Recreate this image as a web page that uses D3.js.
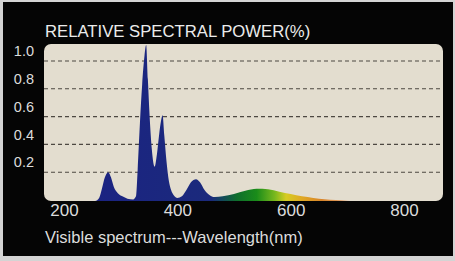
<!DOCTYPE html>
<html>
<head>
<meta charset="utf-8">
<script src="https://cdn.jsdelivr.net/npm/d3@7"></script>
<style>
  html, body { margin: 0; padding: 0; background: #d4d4d4; }
  svg { display: block; font-family: "Liberation Sans", Arial, sans-serif; }
</style>
</head>
<body>
<svg id="chart" width="455" height="261"></svg>
<script>
'use strict';
// relative spectral power of a UV/blue lamp

var wavelengths = [255, 262, 267, 272, 278, 283, 288, 295, 303, 312, 322, 327, 330, 334, 338, 342, 345,
                   348, 351, 355, 360, 364, 368, 371, 374, 377, 381, 385, 389, 394, 400, 408, 416, 424, 433,
                   440, 448, 456, 466, 480, 500, 520, 540, 560, 580, 600, 620, 640, 660, 680, 700, 712];
var power = [0, 0.02, 0.08, 0.15, 0.185, 0.15, 0.09, 0.05, 0.03, 0.015, 0.01, 0.03, 0.2, 0.5, 0.75, 0.93, 1.0,
             0.78, 0.55, 0.33, 0.22, 0.3, 0.43, 0.51, 0.55, 0.42, 0.25, 0.13, 0.07, 0.035, 0.02, 0.03, 0.07, 0.12, 0.14,
             0.12, 0.07, 0.04, 0.025, 0.03, 0.045, 0.065, 0.078, 0.075, 0.06, 0.045, 0.03, 0.02, 0.012, 0.006, 0.002, 0];

var xTicks = [200, 400, 600, 800];
var yTicks = [0.2, 0.4, 0.6, 0.8, 1.0];

// spectrum colours along the wavelength axis
var stopNm = [250, 460, 478, 505, 540, 572, 592, 620, 655, 700];
var stopColor = ["#1b2382", "#1b2a7c", "#13475e", "#0f6e2c", "#1a8c1a", "#78b81e", "#d6cc22", "#e0a824", "#d8842a", "#e0a070"];

var svg = d3.select("#chart");

// black photo backdrop
svg.append("rect")
    .attr("x", 3).attr("y", 2)
    .attr("width", 450).attr("height", 254)
    .attr("fill", "#050505");

var plot = {left: 44, top: 44, right: 443, bottom: 201};

var x = d3.scaleLinear()
    .domain([200, 800])
    .range([64, 404]);
var y = d3.scaleLinear()
    .domain([0, 1])
    .range([plot.bottom, 45]);
// gridlines of the original sit a bit off from the data scale
var yGrid = d3.scaleLinear()
    .domain([0, 1])
    .range([200, 61]);

// plot panel
svg.append("rect")
    .attr("x", plot.left).attr("y", plot.top)
    .attr("width", plot.right - plot.left).attr("height", plot.bottom - plot.top)
    .attr("rx", 7).attr("ry", 7)
    .attr("fill", "#e3ddcf");

svg.append("g")
    .selectAll("line")
    .data(yTicks)
    .enter()
        .append("line")
            .attr("x1", plot.left)
            .attr("x2", plot.right)
            .attr("y1", function(d) { return yGrid(d); })
            .attr("y2", function(d) { return yGrid(d); })
            .attr("stroke", "#4d4842")
            .attr("stroke-width", 1.1)
            .attr("stroke-dasharray", "4,3");

// gradient for the spectrum fill
var grad = svg.append("defs").append("linearGradient")
    .attr("id", "spec")
    .attr("gradientUnits", "userSpaceOnUse")
    .attr("x1", x(stopNm[0])).attr("x2", x(stopNm[stopNm.length - 1]))
    .attr("y1", 0).attr("y2", 0);
var span = stopNm[stopNm.length - 1] - stopNm[0];
grad.selectAll("stop")
    .data(stopNm)
    .enter()
        .append("stop")
            .attr("offset", function(d) { return (d - stopNm[0]) / span; })
            .attr("stop-color", function(d, i) { return stopColor[i]; });

var area = d3.area()
    .x(function(d, i) { return x(wavelengths[i]); })
    .y0(plot.bottom)
    .y1(function(d) { return y(d); })
    .curve(d3.curveMonotoneX);

svg.append("path")
    .datum(power)
    .attr("d", area)
    .attr("fill", "url(#spec)");

// y tick labels
var axisLeft = svg.append("g")
    .attr("transform", "translate(34,-10)")
    .call(d3.axisLeft(yGrid).tickValues(yTicks).tickFormat(d3.format(".1f")).tickSize(0).tickPadding(0));
axisLeft.select(".domain").remove();
axisLeft.selectAll("text")
    .style("font-size", "14.5px")
    .style("font-family", "Liberation Sans, Arial, sans-serif")
    .attr("fill", "#dcdcdc");

// x tick labels
var axisBottom = svg.append("g")
    .attr("transform", "translate(0," + (plot.bottom + 3) + ")")
    .call(d3.axisBottom(x).tickValues(xTicks).tickSize(0).tickPadding(0));
axisBottom.select(".domain").remove();
axisBottom.selectAll("text")
    .style("font-size", "17px")
    .style("font-family", "Liberation Sans, Arial, sans-serif")
    .attr("fill", "#dcdcdc");

svg.append("text")
    .attr("x", 45)
    .attr("y", 37)
    .attr("fill", "#ececec")
    .style("font-size", "16.7px")
    .text("RELATIVE SPECTRAL POWER(%)");

svg.append("text")
    .attr("x", 45)
    .attr("y", 243)
    .attr("fill", "#dcdcdc")
    .style("font-size", "16.5px")
    .text("Visible spectrum---Wavelength(nm)");
</script>
</body>
</html>
